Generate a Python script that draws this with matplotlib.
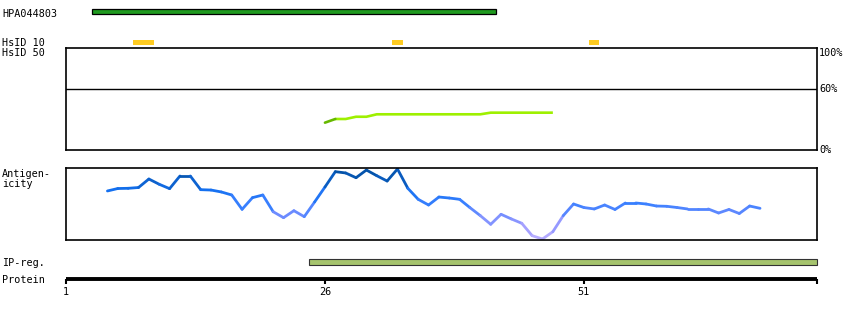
import matplotlib
matplotlib.use('Agg')
import matplotlib.pyplot as plt
import numpy as np
from matplotlib.collections import LineCollection
from matplotlib.colors import LinearSegmentedColormap
import matplotlib.transforms as mtransforms

# ---------------- data ----------------
protein_length = 73
antigen_name = 'HPA044803'
antigen_range = (4, 42)
hsid10_regions = [(8, 9), (33, 33), (52, 52)]
ipreg_range = (25, 73)
protein_ticks = [1, 26, 51]
pct_ticks = [100, 60, 0]
pct_labels = ['100%', '60%', '0%']

hsid50_residues = [26, 27, 28, 29, 30, 31, 32, 33, 34, 35, 36, 37, 38, 39, 40,
                   41, 42, 43, 44, 45, 46, 47, 48]
hsid50_values = [26.8, 30.4, 30.4, 32.6, 32.6, 35.0, 35.0, 35.0, 35.0, 35.0,
                 35.0, 35.0, 35.0, 35.0, 35.0, 35.0, 36.6, 36.6, 36.6, 36.6,
                 36.6, 36.6, 36.6]

antigenicity_residues = list(range(5, 69))
antigenicity_values = [
    0.681, 0.715, 0.718, 0.729, 0.847, 0.774, 0.713, 0.889, 0.889, 0.699,
    0.694, 0.667, 0.625, 0.426, 0.588, 0.625, 0.393, 0.310, 0.407, 0.324,
    0.528, 0.736, 0.949, 0.931, 0.865, 0.972, 0.893, 0.819, 0.986, 0.718,
    0.565, 0.486, 0.597, 0.583, 0.565, 0.449, 0.338, 0.218, 0.357, 0.292,
    0.232, 0.060, 0.014, 0.115, 0.338, 0.500, 0.451, 0.431, 0.486, 0.424,
    0.514, 0.514, 0.500, 0.472, 0.468, 0.451, 0.431, 0.431, 0.431, 0.375,
    0.424, 0.368, 0.472, 0.440]

# ---------------- layout ----------------
W, H = 850, 320
fig = plt.figure(figsize=(W / 100, H / 100), dpi=100)
FONT = 'DejaVu Sans Mono'
FS = 7.3
XL = (1, protein_length + 0.5)


def px_axes(x0, y0, x1, y1):
    ax = fig.add_axes([x0 / W, 1 - y1 / H, (x1 - x0) / W, (y1 - y0) / H])
    ax.set_xlim(*XL)
    return ax


def bare(ax):
    ax.set_axis_off()
    ax.set_ylim(0, 1)


def label(y, s):
    fig.text(2 / W, 1 - y / H, s, fontsize=FS, family=FONT, va='baseline', ha='left')


# antigen bar
ax_a = px_axes(66, 9, 817, 14)
bare(ax_a)
ax_a.barh(0.5, antigen_range[1] - antigen_range[0] + 1, left=antigen_range[0] - 0.5,
          height=1, color='#1f9a1f', edgecolor='black', linewidth=0.9, clip_on=False)
label(16.7, antigen_name)

# HsID 10
ax_h10 = px_axes(66, 40, 817, 45)
bare(ax_h10)
for s, e in hsid10_regions:
    ax_h10.barh(0.5, e - s + 1, left=s - 0.5, height=1, color='#ffcc22',
                linewidth=0, clip_on=False)
label(46, 'HsID 10')

# HsID 50 panel
ax_h = px_axes(66, 48, 817, 150)
ax_h.set_ylim(0, 100)
ax_h.set_xticks([])
ax_h.set_yticks([])
for sp in ax_h.spines.values():
    sp.set_linewidth(1.2)
ax_h.axhline(60, color='black', linewidth=1.0)
ax_h.plot(hsid50_residues[1:], hsid50_values[1:], color='#9ef000', linewidth=1.9,
          solid_joinstyle='round', solid_capstyle='butt')
ax_h.plot(hsid50_residues[:2], hsid50_values[:2], color='#66b800', linewidth=1.9,
          solid_capstyle='round')
trans = mtransforms.blended_transform_factory(ax_h.transAxes, ax_h.transData)
ax_h.text(1.003, 100, pct_labels[0], transform=trans, fontsize=FS, family=FONT,
          va='top', ha='left')
ax_h.text(1.003, 60, pct_labels[1], transform=trans, fontsize=FS, family=FONT,
          va='center', ha='left')
ax_h.text(1.003, 0, pct_labels[2], transform=trans, fontsize=FS, family=FONT,
          va='center', ha='left')
label(56, 'HsID 50')

# Antigenicity panel
ax_g = px_axes(66, 168, 817, 240)
ax_g.set_ylim(0, 1)
ax_g.set_xticks([])
ax_g.set_yticks([])
for sp in ax_g.spines.values():
    sp.set_linewidth(1.2)
cmap = LinearSegmentedColormap.from_list('ag', [
    (0.0, '#bcb0ff'), (0.2, '#9c9cff'), (0.35, '#6e8cff'), (0.5, '#3a80ff'),
    (0.7, '#1470f0'), (0.85, '#0a5cc0'), (1.0, '#004c98')])
apts = np.column_stack([antigenicity_residues, antigenicity_values])
asegs = np.stack([apts[:-1], apts[1:]], axis=1)
amid = (apts[:-1, 1] + apts[1:, 1]) / 2
lc = LineCollection(asegs, colors=cmap(amid), linewidths=2.0, capstyle='round')
ax_g.add_collection(lc)
label(177, 'Antigen-')
label(186.7, 'icity')

# IP-reg bar
ax_ip = px_axes(66, 259, 817, 265)
bare(ax_ip)
ax_ip.barh(0.5, ipreg_range[1] - ipreg_range[0] + 1, left=ipreg_range[0] - 0.5,
           height=1, color='#a6c46e', edgecolor='#333333', linewidth=0.8, clip_on=False)
label(266.5, 'IP-reg.')

# Protein axis
ax_p = px_axes(66, 268, 817, 279)
ax_p.set_ylim(0, 1)
ax_p.patch.set_visible(False)
for k in ('top', 'left', 'right'):
    ax_p.spines[k].set_visible(False)
ax_p.spines['bottom'].set_linewidth(2.8)
ax_p.spines['bottom'].set_capstyle('butt')
ax_p.set_yticks([])
ax_p.set_xticks(protein_ticks + [protein_length + 0.5])
ax_p.set_xticklabels([str(t) for t in protein_ticks] + [''])
ax_p.tick_params(axis='x', direction='out', length=3.5, width=1.5, pad=2.5,
                 labelsize=FS)
for t in ax_p.get_xticklabels():
    t.set_family(FONT)
label(283.4, 'Protein')

fig.savefig('out.png', dpi=100)
